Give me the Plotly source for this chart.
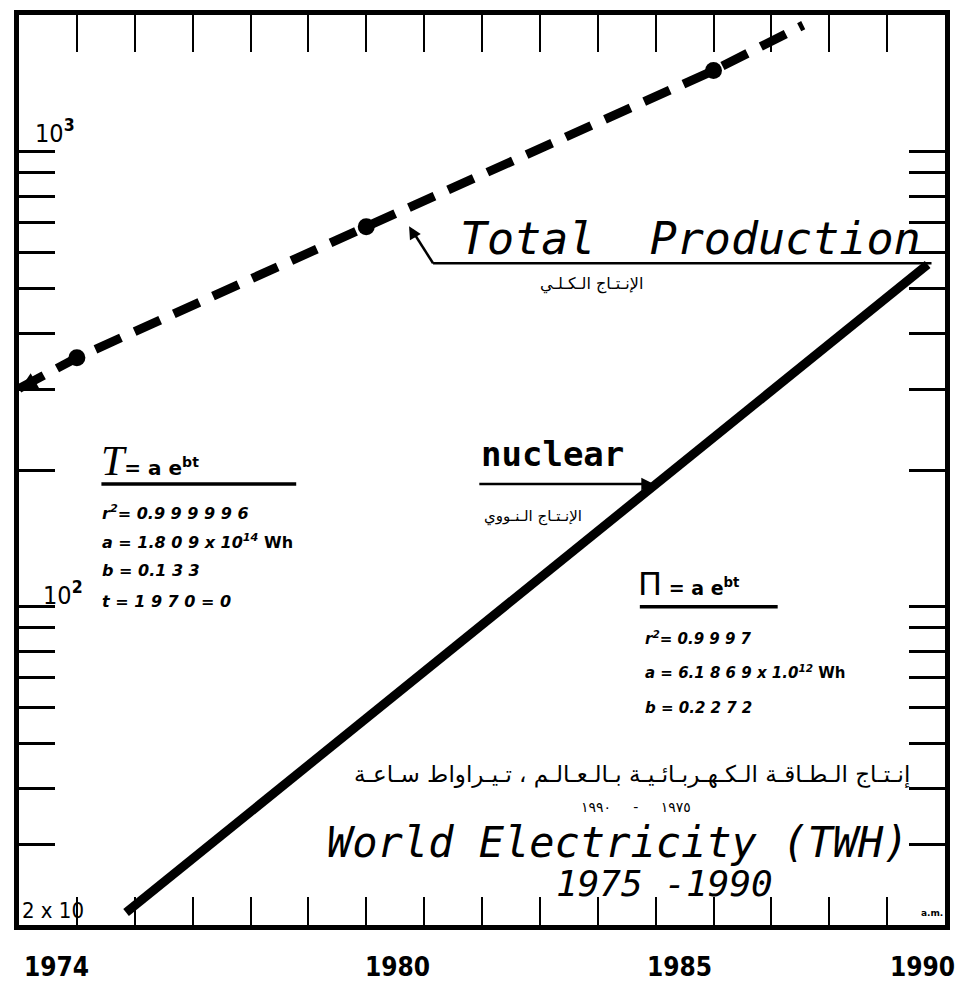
import math
import plotly.graph_objects as go

# ---------------- data ----------------
total_years = [1974, 1975, 1980, 1986, 1987.55]
total_twh = [302, 353, 685, 1510, 1900]
total_dot_years = [1975, 1980, 1986]

nuclear_years = [1975.85, 1980, 1985, 1989.7]
nuclear_twh = [21.3, 57, 186, 566]

year_ticks = list(range(1975, 1990))
x_label_years = ["1974", "1980", "1985", "1990"]
y_major = [100, 1000]
y_minor = [30, 40, 50, 60, 70, 80, 90, 200, 300, 400, 500, 600, 700, 800, 900]

X_RANGE = [1974, 1990]
Y_RANGE = [math.log10(20), math.log10(2000)]

# ---------------- figure geometry ----------------
OFF = 8                      # page body margin of the html
W, H = 957, 983
L, T = 10.5, 6.5
PW, PH = 927, 911
R, B = W - L - PW, H - T - PH


def P(px, py):
    """page pixel position -> paper coordinates (for decorations only)"""
    fx, fy = px - OFF, py - OFF
    return (fx - L) / PW, 1 - (fy - T) / PH


fig = go.Figure()

# Total production (dashed)
dot_sizes = [17 if yr in total_dot_years else 0 for yr in total_years]
fig.add_trace(go.Scatter(
    x=total_years, y=total_twh, mode="lines+markers",
    line=dict(color="black", width=9, dash="28px,15px"),
    marker=dict(color="black", size=dot_sizes, opacity=1, line=dict(width=0)),
    showlegend=False, hoverinfo="skip"))

# Nuclear (solid)
fig.add_trace(go.Scatter(
    x=nuclear_years, y=nuclear_twh, mode="lines",
    line=dict(color="black", width=9),
    showlegend=False, hoverinfo="skip"))

# invisible trace for the top axis
fig.add_trace(go.Scatter(x=[X_RANGE[0]], y=[100], xaxis="x2", mode="markers",
                         marker=dict(opacity=0), showlegend=False, hoverinfo="skip"))

anns = []
shapes = []


def text(px, py, s, size, family="DejaVu Sans", xanchor="left", yanchor="middle", color="black"):
    x, y = P(px, py)
    anns.append(dict(x=x, y=y, xref="paper", yref="paper", text=s, showarrow=False,
                     xanchor=xanchor, yanchor=yanchor,
                     font=dict(size=size, family=family, color=color)))


def seg(px0, py0, px1, py1, width=3):
    x0, y0 = P(px0, py0)
    x1, y1 = P(px1, py1)
    shapes.append(dict(type="line", xref="paper", yref="paper", x0=x0, x1=x1, y0=y0, y1=y1,
                       line=dict(color="black", width=width)))


def arrow(hx, hy, tx, ty, width=2, head=2, size=1.2):
    x, y = P(hx, hy)
    anns.append(dict(x=x, y=y, xref="paper", yref="paper", text="", showarrow=True,
                     ax=tx - hx, ay=ty - hy, arrowhead=head, arrowsize=size,
                     arrowwidth=width, arrowcolor="black"))


NARROW = "Liberation Sans Narrow, DejaVu Sans Condensed, Arial Narrow, sans-serif"
LEROY = "DejaVu Sans Mono, Liberation Mono, monospace"

# y labels inside the box
text(33, 131, "10<sup><b>3</b></sup>", 25, NARROW)
text(41, 594, "10<sup><b>2</b></sup>", 25, NARROW)
text(20, 911, "2 x 10", 22, NARROW)
text(946, 913, "<b>a.m.</b>", 9, "DejaVu Sans", xanchor="right")

# x labels below the box
text(22, 968, "<b>" + x_label_years[0] + "</b>", 26, NARROW)
text(397, 968, "<b>" + x_label_years[1] + "</b>", 26, NARROW, xanchor="center")
text(680, 968, "<b>" + x_label_years[2] + "</b>", 26, NARROW, xanchor="center")
text(958, 968, "<b>" + x_label_years[3] + "</b>", 26, NARROW, xanchor="right")

# Total production label + leader
text(458, 238, "<i>Total  Production</i>", 45, LEROY)
seg(433, 263, 932, 263, width=2.5)
seg(433, 263, 412, 230, width=2.5)
arrow(409, 226, 416, 238, width=2.5, head=2, size=1.0)
text(592, 284, "الإنـتـاج الـكـلـي", 16, "DejaVu Sans", xanchor="center")

# arrow head at the start of the dashed line
arrow(19, 390, 40, 378, width=4, head=2, size=0.9)

# left formula
text(99, 461, "<span style='font-family:Liberation Serif;font-size:42px'><i>T</i></span>"
     "<b>= a e<sup>bt</sup></b>", 20, "DejaVu Sans")
seg(101, 484, 296, 484, width=3.5)
text(100, 513, "<b><i>r<sup>2</sup>= 0.9 9 9 9 9 6</i></b>", 16)
text(100, 542, "<b><i>a = 1.8 0 9 x 10<sup>14</sup></i> Wh</b>", 16)
text(100, 571, "<b><i>b = 0.1 3 3</i></b>", 16)
text(100, 602, "<b><i>t = 1 9 7 0 = 0</i></b>", 16)

# nuclear label
text(479, 454, "<b>nuclear</b>", 34, LEROY)
arrow(654, 484, 478, 484, width=2.5, head=2, size=1.0)
text(533, 517, "الإنـتـاج الـنـووي", 15, "DejaVu Sans", xanchor="center")

# right formula
text(636, 584, "<span style='font-size:32px'>Π</span><b> = a e<sup>bt</sup></b>", 19)
seg(640, 607, 778, 607, width=3.5)
text(643, 638, "<b><i>r<sup>2</sup>= 0.9 9 9 7</i></b>", 15)
text(643, 672, "<b><i>a = 6.1 8 6 9 x 1.0<sup>12</sup></i> Wh</b>", 15)
text(643, 708, "<b><i>b = 0.2 2 7 2</i></b>", 15)

# arabic title and main title
text(632, 775, "إنـتـاج الـطـاقـة الـكـهـربـائـيـة بـالـعـالـم ، تـيـراواط سـاعـة", 23,
     "DejaVu Sans", xanchor="center")
text(636, 807, "١٩٧٥     -     ١٩٩٠", 14, "DejaVu Sans", xanchor="center")
text(618, 843, "<i>World Electricity (TWH)</i>", 42, LEROY, xanchor="center")
text(665, 884, "<i>1975 -1990</i>", 36, LEROY, xanchor="center")

fig.update_layout(
    width=W, height=H,
    margin=dict(l=L, r=R, t=T, b=B, autoexpand=False),
    paper_bgcolor="white", plot_bgcolor="white",
    showlegend=False,
    annotations=anns, shapes=shapes,
    xaxis=dict(range=X_RANGE, showline=True, linewidth=5, linecolor="black", mirror=True,
               ticks="inside", tickvals=year_ticks, ticklen=28, tickwidth=2.2, tickcolor="black",
               showticklabels=False, showgrid=False, zeroline=False),
    xaxis2=dict(range=X_RANGE, overlaying="x", side="top", anchor="y",
                ticks="inside", tickvals=year_ticks, ticklen=37, tickwidth=2.2, tickcolor="black",
                showticklabels=False, showgrid=False, zeroline=False, showline=False),
    yaxis=dict(type="log", range=Y_RANGE, showline=True, linewidth=5, linecolor="black",
               mirror="allticks", ticks="inside", tickvals=y_major, ticklen=36, tickwidth=2.5,
               tickcolor="black", showticklabels=False, showgrid=False, zeroline=False,
               minor=dict(tickvals=y_minor, ticks="inside", ticklen=24, tickwidth=2.5,
                          tickcolor="black", showgrid=False)),
)

fig.write_html("out.html", config={"displayModeBar": False})
